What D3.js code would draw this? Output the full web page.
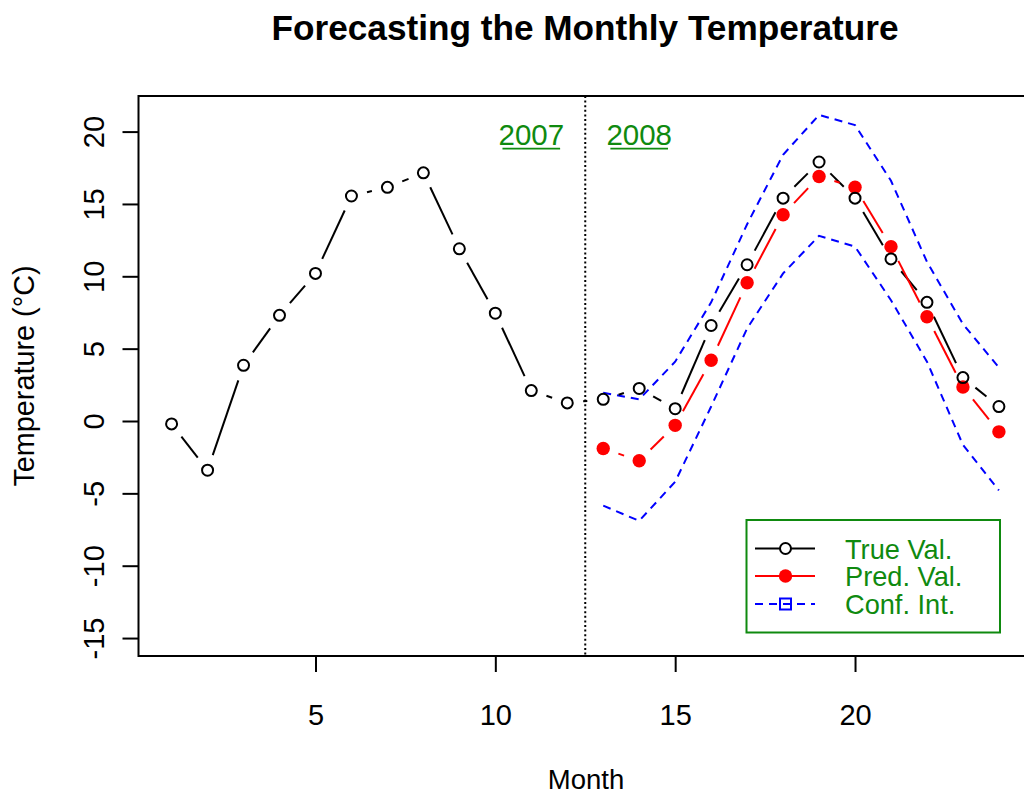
<!DOCTYPE html>
<html><head><meta charset="utf-8">
<script src="https://cdn.jsdelivr.net/npm/d3@7"></script>
<style>
html,body{margin:0;padding:0;background:#fff;}
svg{display:block;}
text{font-family:"Liberation Sans",Arial,Helvetica,sans-serif;}
</style></head>
<body>
<svg id="chart" width="1024" height="794"></svg>
<script>
// ---- data ----
const months = d3.range(1, 25);
const trueVal = [-0.2, -3.4, 3.85, 7.3, 10.2, 15.55, 16.15, 17.15, 11.9, 7.45, 2.1, 1.25,
                 1.5, 2.25, 0.85, 6.6, 10.8, 15.4, 17.9, 15.4, 11.2, 8.2, 3.0, 1.0];
const predMonths = d3.range(13, 25);
const predVal = [-1.9, -2.75, -0.3, 4.2, 9.55, 14.25, 16.9, 16.15, 12.05, 7.2, 2.35, -0.75];
const upperCI = [1.95, 1.5, 4.1, 8.2, 13.6, 18.4, 21.15, 20.45, 16.6, 11.0, 6.7, 3.7];
const lowerCI = [-5.85, -6.9, -4.2, 1.0, 6.4, 10.2, 12.8, 12.05, 8.35, 4.1, -1.65, -4.8];
const xTicks = [5, 10, 15, 20];
const yTicks = [-15, -10, -5, 0, 5, 10, 15, 20];
const yearLabels = [{x: 11, y: 20, t: "2007"}, {x: 14, y: 20, t: "2008"}];
const splitAt = 12.5;
const legendLabels = ["True Val.", "Pred. Val.", "Conf. Int."];
const titleText = "Forecasting the Monthly Temperature";
const xLabel = "Month";
const yLabel = "Temperature (°C)";

// ---- layout ----
const svg = d3.select("#chart");
const pL = 138.5, pR = 1032, pT = 96, pB = 656;
const x = d3.scaleLinear().domain([0.08, 24.92]).range([pL, pR]);
const y = d3.scaleLinear().domain([-16.24, 22.46]).range([pB, pT]);
const green = "#0f8a0f";
const fmt = d => String(d);

// title
svg.append("text").attr("x", 585).attr("y", 40).attr("text-anchor", "middle")
  .attr("font-size", 35.2).attr("font-weight", "bold").text(titleText);

// axes
const xAxis = d3.axisBottom(x).tickValues(xTicks).tickSize(16).tickFormat(fmt);
const gx = svg.append("g").attr("transform", `translate(0,${pB})`).call(xAxis);
gx.select(".domain").remove();
gx.selectAll("line").attr("stroke", "#000").attr("stroke-width", 2);
gx.selectAll("text").attr("font-size", 29).attr("fill", "#000").attr("dy", null).attr("y", 69);

const yAxis = d3.axisLeft(y).tickValues(yTicks).tickSize(16).tickFormat(fmt);
const gy = svg.append("g").attr("transform", `translate(${pL},0)`).call(yAxis);
gy.select(".domain").remove();
gy.selectAll("line").attr("stroke", "#000").attr("stroke-width", 2);
gy.selectAll("text").attr("font-size", 29).attr("fill", "#000")
  .attr("x", null).attr("dy", null).attr("text-anchor", "middle")
  .attr("transform", "translate(-35,0) rotate(-90)");

// axis labels
svg.append("text").attr("x", 586).attr("y", 789).attr("text-anchor", "middle")
  .attr("font-size", 27.5).text(xLabel);
svg.append("text").attr("transform", `translate(34,${(pT + pB) / 2}) rotate(-90)`)
  .attr("text-anchor", "middle").attr("font-size", 28.8).text(yLabel);

// box
svg.append("rect").attr("x", pL).attr("y", pT).attr("width", pR - pL).attr("height", pB - pT)
  .attr("fill", "none").attr("stroke", "#000").attr("stroke-width", 2);

// split line
svg.append("line").attr("x1", x(splitAt)).attr("x2", x(splitAt)).attr("y1", pT).attr("y2", pB)
  .attr("stroke", "#000").attr("stroke-width", 2).attr("stroke-dasharray", "2,2.6");

// year labels
yearLabels.forEach(d => {
  const t = svg.append("text").attr("x", x(d.x)).attr("y", y(d.y) + 13).attr("text-anchor", "middle")
    .attr("font-size", 29.5).attr("fill", green).text(d.t);
  const w = t.node().getComputedTextLength();
  svg.append("line").attr("x1", x(d.x) - w / 2 + 4).attr("x2", x(d.x) + w / 2 - 4)
    .attr("y1", y(d.y) + 17).attr("y2", y(d.y) + 17).attr("stroke", green).attr("stroke-width", 1.6);
});

// type "b" lines with gaps around points
function gapLines(g, pts, color, gap) {
  for (let i = 0; i < pts.length - 1; i++) {
    const [x1, y1] = pts[i], [x2, y2] = pts[i + 1];
    const dx = x2 - x1, dy = y2 - y1, L = Math.hypot(dx, dy);
    if (L <= 2 * gap) continue;
    const ux = dx / L, uy = dy / L;
    g.append("line").attr("x1", x1 + ux * gap).attr("y1", y1 + uy * gap)
      .attr("x2", x2 - ux * gap).attr("y2", y2 - uy * gap)
      .attr("stroke", color).attr("stroke-width", 2);
  }
}

const truePts = months.map((m, i) => [x(m), y(trueVal[i])]);
const predPts = predMonths.map((m, i) => [x(m), y(predVal[i])]);

// confidence intervals
const line = d3.line().x(d => x(d[0])).y(d => y(d[1]));
[upperCI, lowerCI].forEach(arr => {
  svg.append("path").datum(predMonths.map((m, i) => [m, arr[i]])).attr("d", line)
    .attr("fill", "none").attr("stroke", "#0000ff").attr("stroke-width", 2)
    .attr("stroke-dasharray", "8,6");
});

const gl = svg.append("g");
gapLines(gl, truePts, "#000", 16);
gapLines(gl, predPts, "#ff0000", 16);

svg.append("g").selectAll("circle").data(predPts).join("circle")
  .attr("cx", d => d[0]).attr("cy", d => d[1]).attr("r", 6.7).attr("fill", "#ff0000");
svg.append("g").selectAll("circle").data(truePts).join("circle")
  .attr("cx", d => d[0]).attr("cy", d => d[1]).attr("r", 5.5)
  .attr("fill", "none").attr("stroke", "#000").attr("stroke-width", 2);

// legend
const lg = svg.append("g");
lg.append("rect").attr("x", 746.5).attr("y", 520).attr("width", 253.5).attr("height", 112.5)
  .attr("fill", "#fff").attr("stroke", green).attr("stroke-width", 2);
const rowY = [548.5, 576, 604];
const lcol = ["#000", "#ff0000", "#0000ff"];
legendLabels.forEach((lab, i) => {
  const yy = rowY[i];
  lg.append("line").attr("x1", 755).attr("x2", 815).attr("y1", yy).attr("y2", yy)
    .attr("stroke", lcol[i]).attr("stroke-width", 2)
    .attr("stroke-dasharray", i === 2 ? "8,6" : null);
  if (i === 0) lg.append("circle").attr("cx", 785.5).attr("cy", yy).attr("r", 5.5)
    .attr("fill", "#fff").attr("stroke", "#000").attr("stroke-width", 2);
  if (i === 1) lg.append("circle").attr("cx", 785.5).attr("cy", yy).attr("r", 6.7).attr("fill", "#ff0000");
  if (i === 2) lg.append("rect").attr("x", 780).attr("y", yy - 5.5).attr("width", 11).attr("height", 11)
    .attr("fill", "none").attr("stroke", "#0000ff").attr("stroke-width", 2);
  lg.append("text").attr("x", 845).attr("y", yy + 10).attr("font-size", 27.2).attr("fill", green).text(lab);
});
</script>
</body></html>
